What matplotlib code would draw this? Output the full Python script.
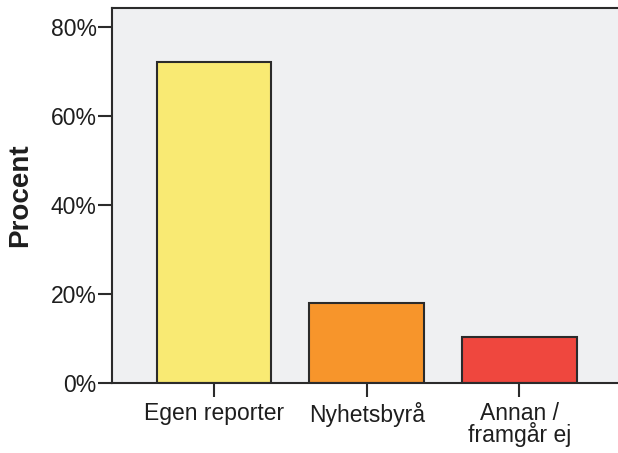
import numpy as np
import matplotlib
matplotlib.use("Agg")
import matplotlib.pyplot as plt

# data
categories = ["Egen reporter", "Nyhetsbyrå", "Annan /\nframgår ej"]
percent = [72.0, 17.8, 10.2]
colors = ["#F9EA73", "#F7952B", "#EF473E"]
yticks = [0, 20, 40, 60, 80]

plt.rcParams["font.family"] = ["Liberation Sans", "DejaVu Sans"]

fig = plt.figure(figsize=(6.18, 4.53), dpi=100, facecolor="w")
ax = fig.add_axes([112/618, 1 - 382.5/453, (618-112)/618, (382.5-8)/453])
ax.set_facecolor("#EFF0F2")

x = np.arange(len(categories))
ax.bar(x, percent, width=0.75, color=colors, edgecolor="#2b2b2b", linewidth=1.5, zorder=2)

ax.set_xlim(-0.668, 2.646)
ax.set_ylim(0, 84.2)
ax.set_xticks(x)
ax.set_xticklabels(categories, fontsize=16.5, linespacing=0.85)
ax.set_yticks(yticks)
ax.set_yticklabels([f"{v}%" for v in yticks], fontsize=16.5)
ax.tick_params(length=10, width=1.5, color="#2b2b2b", labelcolor="#1e1e1e")
ax.tick_params(axis="y", pad=1)
ax.tick_params(axis="x", pad=4)
for s in ax.spines.values():
    s.set_linewidth(1.5)
    s.set_color("#2b2b2b")
ax.spines["right"].set_visible(False)

ax.set_ylabel("Procent", fontsize=20, fontweight="bold", color="#1e1e1e")
ax.yaxis.set_label_coords(-79/506, 0.5)

fig.savefig("out.png", dpi=100)
plt.close()
